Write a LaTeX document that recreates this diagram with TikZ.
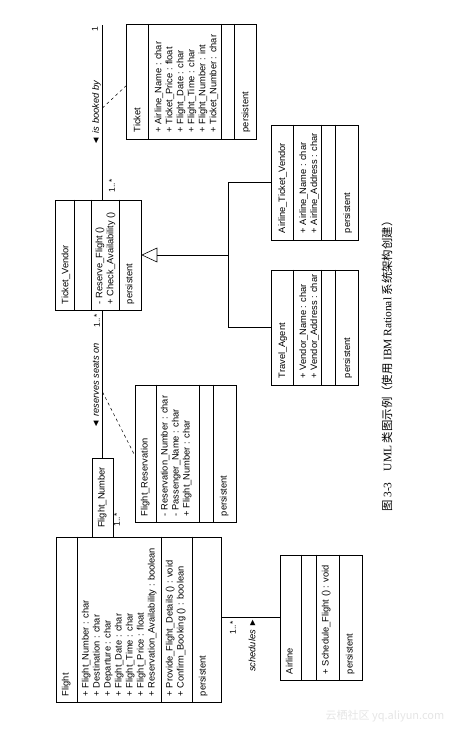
\documentclass[tikz,border=0pt]{standalone}
\usepackage{fontspec}
\setmainfont{Liberation Sans}
\newfontfamily\cjk{Noto Sans CJK SC}
\newfontfamily\capserif{Liberation Serif}
\usetikzlibrary{calc,positioning}
\tikzstyle{cls} = [draw, line width=0.6pt, inner sep=0pt]
\tikzstyle{edge} = [draw, line width=0.6pt]
\tikzstyle{txt} = [rotate=90, inner sep=0pt, align=left, font=\fontsize{9.3}{11}\selectfont]
\tikzstyle{role} = [rotate=90, inner sep=0pt, font=\fontsize{9.3}{11}\selectfont\itshape]
\tikzstyle{mult} = [rotate=90, inner sep=0pt, font=\fontsize{8.5}{10}\selectfont]

\begin{document}
\begin{tikzpicture}[x=1pt, y=-1pt]
    \useasboundingbox (0,0) rectangle (458,733);

    % class boxes
    \node[cls, minimum width=165pt, minimum height=165pt] (flight) at (138.5,619.5) {};
    \node[cls, minimum width=21pt, minimum height=79pt] (fnum) at (102.5,497.5) {};
    \node[cls, minimum width=101pt, minimum height=137pt] (fres) at (185.5,453.5) {};
    \node[cls, minimum width=86pt, minimum height=110pt] (tvendor) at (98.7,255) {};
    \node[cls, minimum width=130pt, minimum height=115pt] (ticket) at (191.7,81.7) {};
    \node[cls, minimum width=87pt, minimum height=115pt] (atv) at (315,182.5) {};
    \node[cls, minimum width=87pt, minimum height=115pt] (tagent) at (315,327.5) {};
    \node[cls, minimum width=82pt, minimum height=125pt] (airline) at (321,617.5) {};

    % compartments
    \foreach \d in {22,106,137}
        \draw[edge] ($(flight.north west)+(\d,0)$) -- ($(flight.south west)+(\d,0)$);
    \foreach \d in {22,65,79}
        \draw[edge] ($(fres.north west)+(\d,0)$) -- ($(fres.south west)+(\d,0)$);
    \foreach \d in {19.3,36,64.3}
        \draw[edge] ($(tvendor.north west)+(\d,0)$) -- ($(tvendor.south west)+(\d,0)$);
    \foreach \d in {21.6,95,108.3}
        \draw[edge] ($(ticket.north west)+(\d,0)$) -- ($(ticket.south west)+(\d,0)$);
    \foreach \d in {21.6,50,64.3} {
        \draw[edge] ($(atv.north west)+(\d,0)$) -- ($(atv.south west)+(\d,0)$);
        \draw[edge] ($(tagent.north west)+(\d,0)$) -- ($(tagent.south west)+(\d,0)$);
    }
    \foreach \d in {22,37,60}
        \draw[edge] ($(airline.north west)+(\d,0)$) -- ($(airline.south west)+(\d,0)$);

    % class texts
    \node[txt, anchor=north west] (flightname) at ($(flight.south west)+(6,-6)$) {Flight};
    \node[txt, anchor=north west] (flightattr) at ($(flight.south west)+(26,-6)$) {+ Flight\_Number : char\\+ Destination : char\\+ Departure : char\\+ Flight\_Date : char\\+ Flight\_Time : char\\+ Flight\_Price : float\\+ Reservation\_Availability : boolean};
    \node[txt, anchor=north west] (flightop) at ($(flight.south west)+(110,-6)$) {+ Provide\_Flight\_Details () : void\\+ Confirm\_Booking () : boolean};
    \node[txt, anchor=north west] (flightper) at ($(flight.south west)+(143,-6)$) {persistent};

    \node[txt, anchor=north east] (fnumname) at ($(fnum.north west)+(6,9)$) {Flight\_Number};

    \node[txt, anchor=north west] (fresname) at ($(fres.south west)+(6,-6)$) {Flight\_Reservation};
    \node[txt, anchor=north west] (fresattr) at ($(fres.south west)+(26,-6)$) {- Reservation\_Number : char\\- Passenger\_Name : char\\+ Flight\_Number : char};
    \node[txt, anchor=north west] (fresper) at ($(fres.south west)+(85,-6)$) {persistent};

    \node[txt, anchor=north west] (tvname) at ($(tvendor.south west)+(6,-6)$) {Ticket\_Vendor};
    \node[txt, anchor=north west] (tvop) at ($(tvendor.south west)+(40,-6)$) {- Reserve\_Flight ()\\+ Check\_Availability ()};
    \node[txt, anchor=north west] (tvper) at ($(tvendor.south west)+(70,-6)$) {persistent};

    \node[txt, anchor=north west] (ticketname) at ($(ticket.south west)+(7,-7)$) {Ticket};
    \node[txt, anchor=north west] (ticketattr) at ($(ticket.south west)+(28,-7)$) {+ Airline\_Name : char\\+ Ticket\_Price : float\\+ Flight\_Date : char\\+ Flight\_Time : char\\+ Flight\_Number : int\\+ Ticket\_Number : char};
    \node[txt, anchor=north west] (ticketper) at ($(ticket.south west)+(115,-7)$) {persistent};

    \node[txt, anchor=north west] (atvname) at ($(atv.south west)+(7,-7)$) {Airline\_Ticket\_Vendor};
    \node[txt, anchor=north west] (atvattr) at ($(atv.south west)+(28,-7)$) {+ Airline\_Name : char\\+ Airline\_Address : char};
    \node[txt, anchor=north west] (atvper) at ($(atv.south west)+(72,-7)$) {persistent};

    \node[txt, anchor=north west] (taname) at ($(tagent.south west)+(7,-7)$) {Travel\_Agent};
    \node[txt, anchor=north west] (taattr) at ($(tagent.south west)+(28,-7)$) {+ Vendor\_Name : char\\+ Vendor\_Address : char};
    \node[txt, anchor=north west] (taper) at ($(tagent.south west)+(72,-7)$) {persistent};

    \node[txt, anchor=north west] (alname) at ($(airline.south west)+(6,-6)$) {Airline};
    \node[txt, anchor=north west] (alop) at ($(airline.south west)+(42,-6)$) {+ Schedule\_Flight () : void};
    \node[txt, anchor=north west] (alper) at ($(airline.south west)+(66,-6)$) {persistent};

    % associations
    \coordinate (bookend) at (102.5,25);
    \draw[edge] (fnum.north) -- (fnum.north |- tvendor.south);
    \draw[edge] (tvendor.north -| fnum.north) -- (bookend);
    \draw[edge] (flight.east |- airline.west) -- (airline.west);
    \coordinate (resmid) at (102.5,392);
    \coordinate (bookmid) at (102.5,108);
    \draw[dashed, line width=0.5pt] (resmid) -- ($(fres.south west)+(0,-67)$);
    \draw[dashed, line width=0.5pt] (bookmid) -- ($(ticket.south west)+(0,-54)$);

    \node[role] (reslbl) at (96,386) {◄ reserves seats on};
    \node[role] (booklbl) at (96.5,113) {◄ is booked by};
    \node[role] (schlbl) at (252,645) {schedules ►};
    \node[mult] (m1) at (117,520) {1..*};
    \node[mult] (m2) at (97,321) {1..*};
    \node[mult] (m3) at (112,186) {1..*};
    \node[mult] (m4) at (233,628) {1..*};
    \node[mult] (m5) at (95,29) {1};

    % generalization
    \coordinate (gbase) at ($(tvendor.east)+(15,0)$);
    \coordinate (gjoin) at (228.3,255);
    \draw[edge, fill=white] (tvendor.east) -- ($(gbase)+(0,-7)$) -- ($(gbase)+(0,7)$) -- cycle;
    \draw[edge] (gbase) -- (gjoin);
    \draw[edge] (gjoin |- atv.west) -- (gjoin |- tagent.west);
    \draw[edge] (gjoin |- atv.west) -- (atv.west);
    \draw[edge] (gjoin |- tagent.west) -- (tagent.west);

    % caption and watermark
    \node[rotate=90, font=\fontsize{11.4}{13}\selectfont] (caption) at (387,363.5)
        {\cjk 图 {\capserif 3-3}\quad {\capserif UML} 类图示例（使用 {\capserif IBM Rational} 系统架构创建）};
    \node[text=black!10, font=\fontsize{11}{12}\selectfont] (wmark) at (385,716) {\cjk 云栖社区 yq.aliyun.com};
\end{tikzpicture}
\end{document}
